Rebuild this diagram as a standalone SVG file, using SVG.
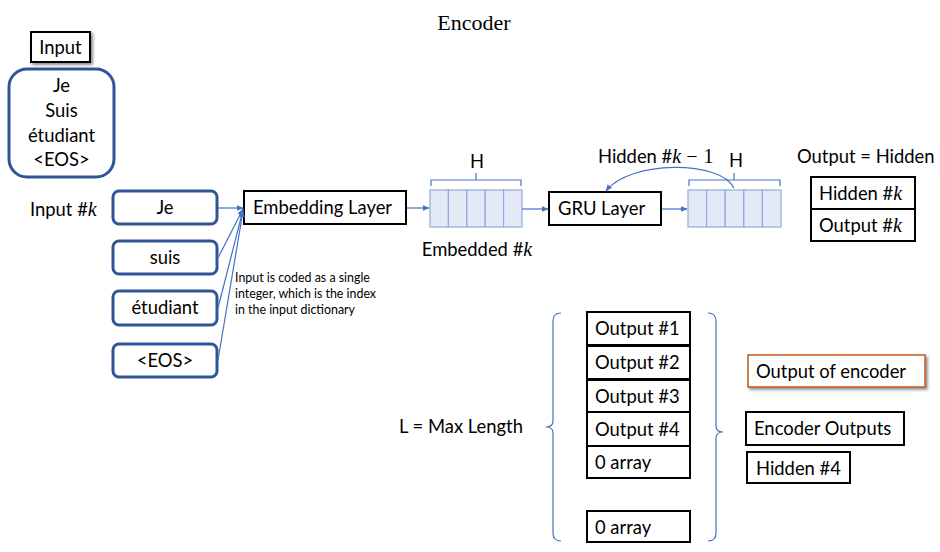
<svg xmlns="http://www.w3.org/2000/svg" width="940" height="552" viewBox="0 0 940 552">
<defs>
<marker id="ah" viewBox="0 0 10 10" refX="9" refY="5" markerWidth="7" markerHeight="7" orient="auto" markerUnits="userSpaceOnUse"><path d="M0,1 L10,5 L0,9 z" fill="#4472C4"/></marker>
<filter id="sh" x="-20%" y="-20%" width="140%" height="140%"><feDropShadow dx="2" dy="2" stdDeviation="1.5" flood-color="#000" flood-opacity="0.45"/></filter>
</defs>
<style>
text{font-family:Lato,"Open Sans","Liberation Sans",sans-serif;font-size:18.4px;fill:#000}
.m{font-family:"Liberation Serif",serif;font-style:italic;font-size:20px}
.mr{font-family:"Liberation Serif",serif;font-size:20px}
.t{font-family:"Liberation Serif",serif;font-size:22px}
.sm{font-size:12.4px}
.rb{fill:#fff;stroke:#2F5597;stroke-width:3}
.bx{fill:#fff;stroke:#000;stroke-width:2}
.cell{fill:#E4EAF5;stroke:#8FAADC;stroke-width:1.2}
.ln{fill:none;stroke:#4472C4;stroke-width:1.2}
.br{fill:none;stroke:#4472C4;stroke-width:1.2}
.c{text-anchor:middle}
</style>
<rect width="940" height="552" fill="#fff"/>
<text class="t c" x="474" y="30">Encoder</text>

<g id="input-label">
<rect x="31" y="32" width="59" height="30" fill="#fff" stroke="#000" stroke-width="2" filter="url(#sh)"/>
<text class="c" x="60.5" y="54">Input</text>
</g>
<g id="input-sentence">
<rect class="rb" x="9" y="69" width="105" height="108" rx="18"/>
<text class="c" x="61.5" y="92">Je</text>
<text class="c" x="61.5" y="117">Suis</text>
<text class="c" x="61.5" y="142">étudiant</text>
<text class="c" x="61.5" y="166">&lt;EOS&gt;</text>
</g>
<g id="input-k"><text x="30" y="216">Input #<tspan class="m">k</tspan></text></g>

<g id="w-je"><rect class="rb" x="113" y="191" width="104" height="33" rx="6"/><text class="c" x="165" y="214">Je</text></g>
<g id="w-suis"><rect class="rb" x="113" y="241" width="104" height="33" rx="6"/><text class="c" x="165" y="264">suis</text></g>
<g id="w-etudiant"><rect class="rb" x="113" y="291" width="104" height="34" rx="6"/><text class="c" x="165" y="314">étudiant</text></g>
<g id="w-eos"><rect class="rb" x="113" y="344" width="104" height="33" rx="6"/><text class="c" x="165" y="367">&lt;EOS&gt;</text></g>

<g id="note"><text class="sm" x="235" y="282">Input is coded as a single</text><text class="sm" x="235" y="298">integer, which is the index</text><text class="sm" x="235" y="314">in the input dictionary</text></g>

<g id="embedding"><rect class="bx" x="244" y="191" width="162" height="33"/><text x="253" y="214">Embedding Layer</text></g>

<g id="embedded">
<rect class="cell" x="430" y="190" width="18.4" height="37"/><rect class="cell" x="448.4" y="190" width="18.4" height="37"/><rect class="cell" x="466.8" y="190" width="18.4" height="37"/><rect class="cell" x="485.2" y="190" width="18.4" height="37"/><rect class="cell" x="503.6" y="190" width="18.4" height="37"/>
<path class="br" d="M431,186 V180 H521 V186 M476,180 V173"/>
<text class="c" x="477" y="168">H</text>
<text class="c" x="477" y="256">Embedded #<tspan class="m">k</tspan></text>
</g>

<g id="gru"><rect class="bx" x="549" y="192" width="112" height="33"/><text x="558" y="215">GRU Layer</text></g>

<g id="hidden-vec">
<rect class="cell" x="688" y="190" width="18.6" height="37"/><rect class="cell" x="706.6" y="190" width="18.6" height="37"/><rect class="cell" x="725.2" y="190" width="18.6" height="37"/><rect class="cell" x="743.8" y="190" width="18.6" height="37"/><rect class="cell" x="762.4" y="190" width="18.6" height="37"/>
<path class="br" d="M689,186 V180 H780 V186 M734,180 V173"/>
<text class="c" x="736" y="167">H</text>
<text x="598" y="163">Hidden #<tspan class="m">k</tspan><tspan class="mr" dx="5">−</tspan><tspan class="mr" dx="6">1</tspan></text>
</g>

<g id="output-hidden">
<text x="797" y="163">Output = Hidden</text>
<rect class="bx" x="811" y="177" width="104" height="64"/>
<line x1="811" y1="209" x2="915" y2="209" stroke="#000" stroke-width="2"/>
<text x="819" y="200">Hidden #<tspan class="m">k</tspan></text>
<text x="819" y="232">Output #<tspan class="m">k</tspan></text>
</g>

<g id="outputs">
<rect class="bx" x="587" y="312" width="103" height="33"/><text x="595" y="335">Output #1</text>
<rect class="bx" x="587" y="346" width="103" height="33"/><text x="595" y="369">Output #2</text>
<rect class="bx" x="587" y="380" width="103" height="32"/><text x="595" y="403">Output #3</text>
<rect class="bx" x="587" y="412" width="103" height="34"/><text x="595" y="436">Output #4</text>
<rect class="bx" x="587" y="446" width="103" height="32"/><text x="595" y="469">0 array</text>
<rect class="bx" x="587" y="511" width="103" height="31"/><text x="595" y="534">0 array</text>
</g>
<g id="braces">
<path class="br" d="M561,313 Q553,313 553,321 L553,421 Q553,427 546,427 Q553,427 553,433 L553,533 Q553,541 561,541"/>
<path class="br" d="M708,313 Q716,313 716,321 L716,426 Q716,432 723,432 Q716,432 716,438 L716,533 Q716,541 708,541"/>
<text x="399" y="433">L = Max Length</text>
</g>

<g id="output-of-encoder"><rect x="748" y="355" width="177" height="32" fill="#fff" stroke="#C55A11" stroke-width="1.5" filter="url(#sh)"/><text x="756" y="378">Output of encoder</text></g>
<g id="encoder-outputs"><rect class="bx" x="746" y="412" width="158" height="33"/><text x="754" y="435">Encoder Outputs</text></g>
<g id="hidden4"><rect class="bx" x="747" y="452" width="103" height="31"/><text x="756" y="475">Hidden #4</text></g>

<g id="connectors">
<line class="ln" x1="218" y1="208" x2="243" y2="208" marker-end="url(#ah)"/>
<line class="ln" x1="218" y1="258" x2="243" y2="209" marker-end="url(#ah)"/>
<line class="ln" x1="218" y1="308" x2="243" y2="210" marker-end="url(#ah)"/>
<line class="ln" x1="218" y1="360" x2="243" y2="211" marker-end="url(#ah)"/>
<line class="ln" x1="407" y1="208" x2="429" y2="208" marker-end="url(#ah)"/>
<line class="ln" x1="522" y1="209" x2="548" y2="209" marker-end="url(#ah)"/>
<line class="ln" x1="662" y1="209" x2="687" y2="209" marker-end="url(#ah)"/>
<path class="ln" d="M734,188 C720,160 630,160 606,191" marker-end="url(#ah)"/>
</g>
</svg>
